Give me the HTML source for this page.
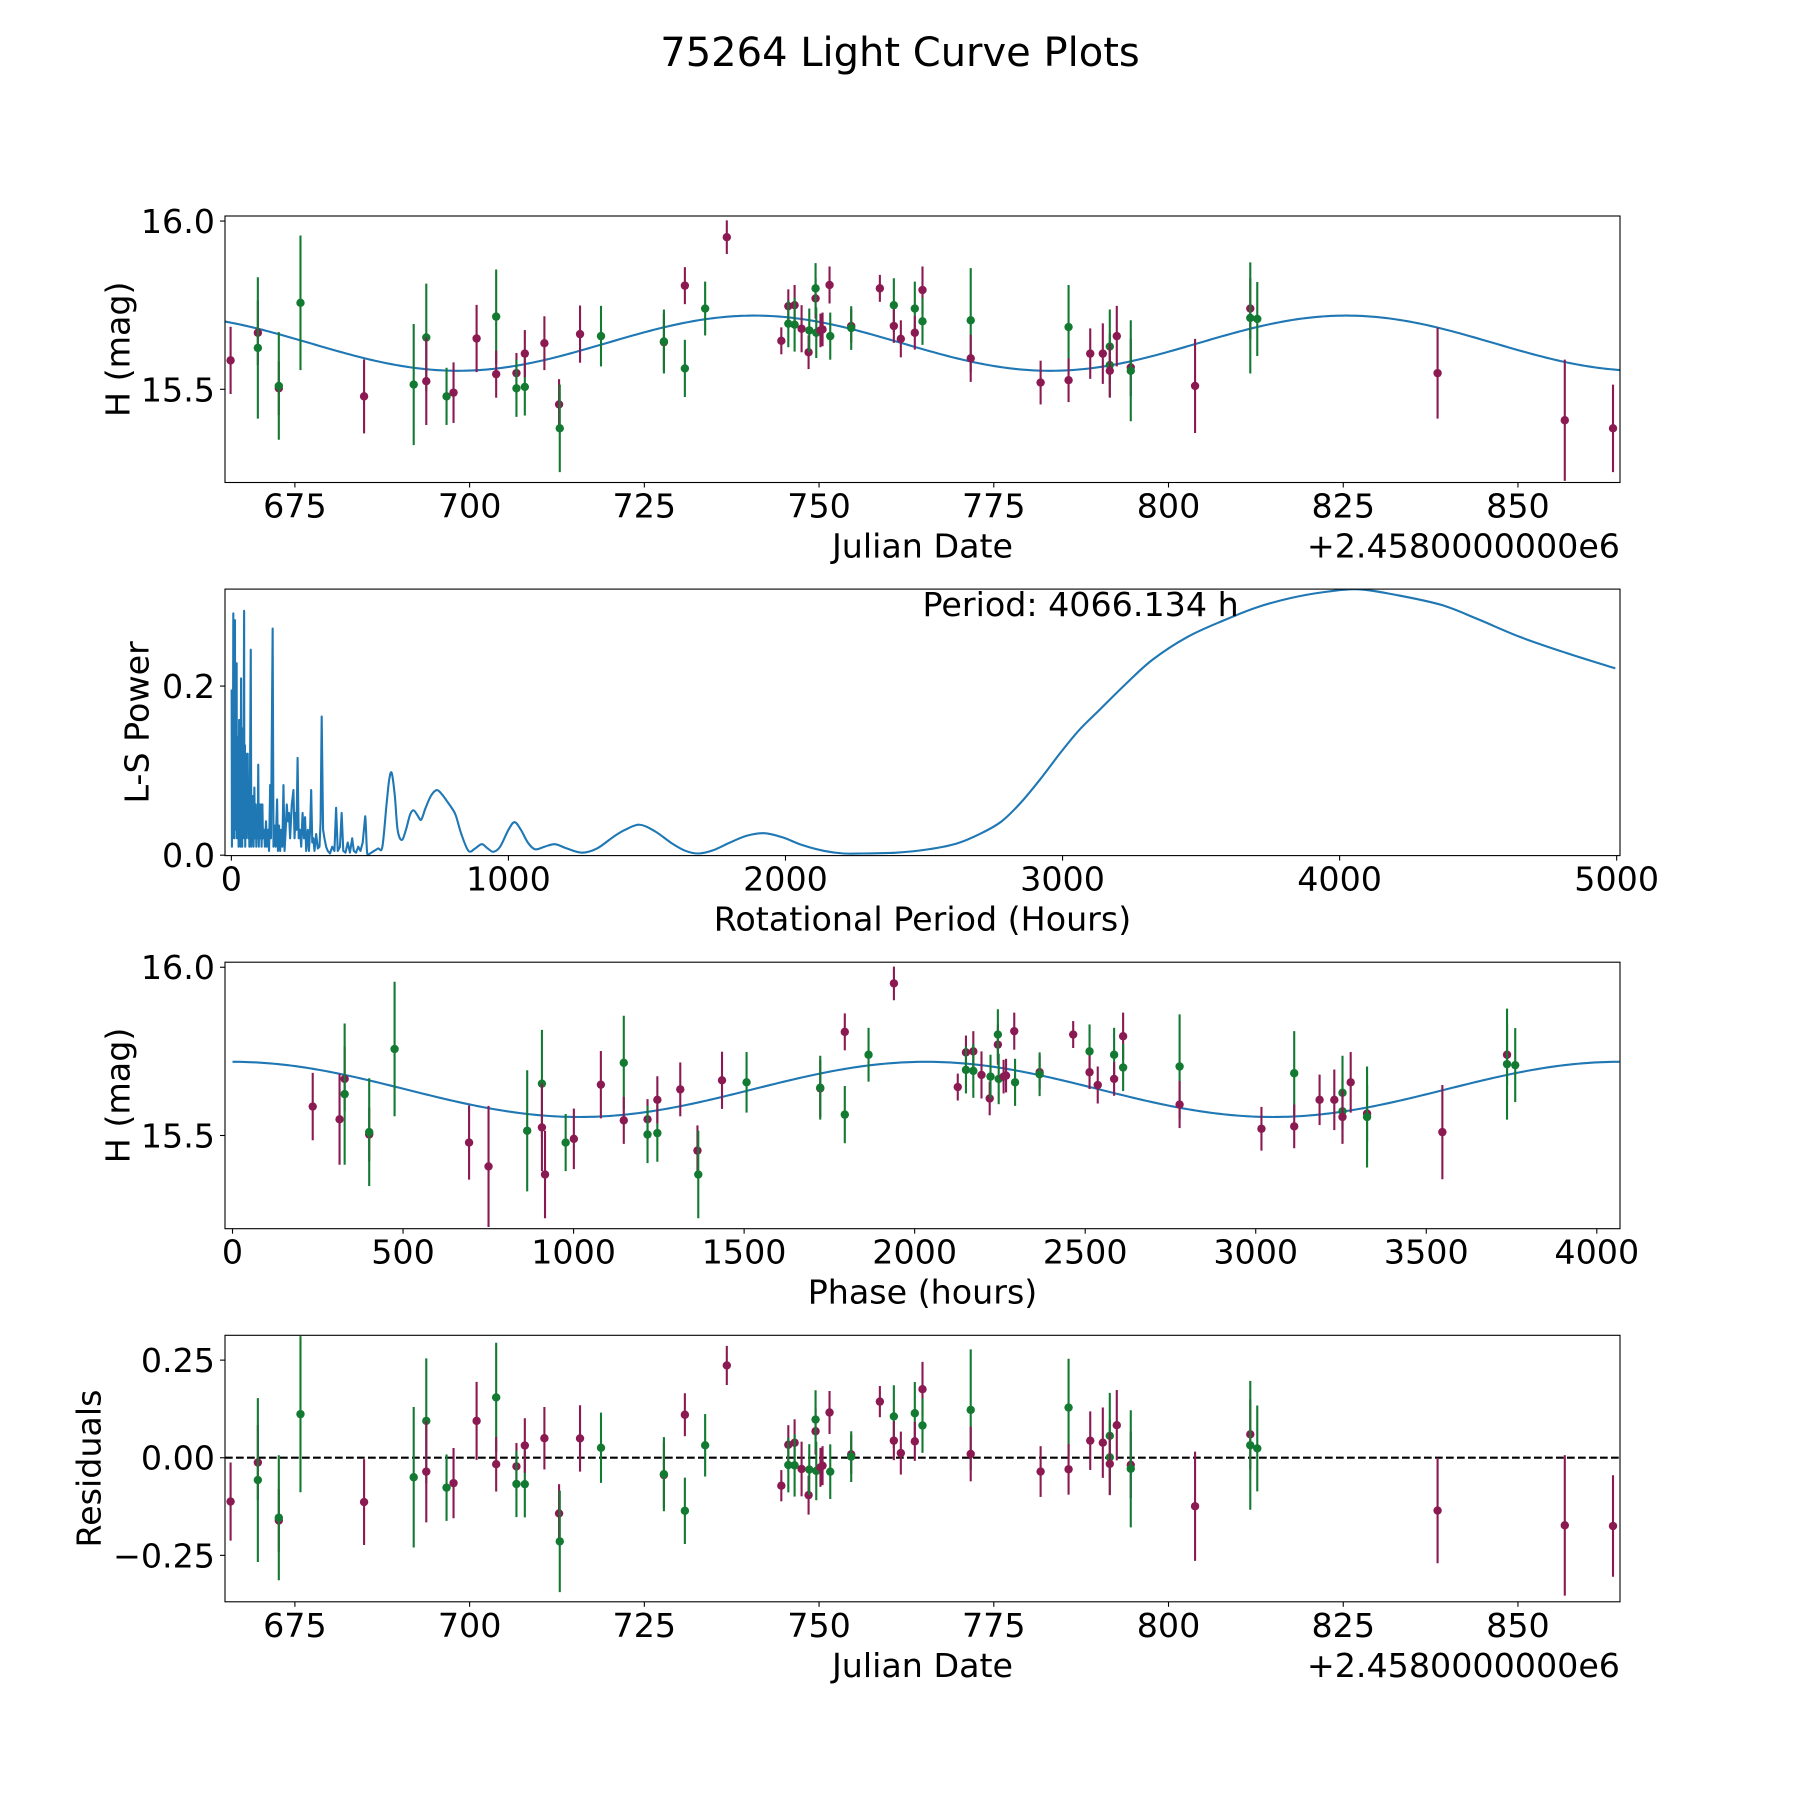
<!DOCTYPE html>
<html><head><meta charset="utf-8"><title>75264 Light Curve Plots</title>
<style>
html,body{margin:0;padding:0;background:#fff;}
svg{display:block;font-family:"DejaVu Sans","Liberation Sans",sans-serif;}
</style></head>
<body>
<svg id="fig" width="1800" height="1800" viewBox="0 0 1800 1800" xmlns="http://www.w3.org/2000/svg">
<rect width="1800" height="1800" fill="#fff"/>
<text x="900" y="66" font-size="40" text-anchor="middle">75264 Light Curve Plots</text>
</svg>
<script>
// ---- observation data ----
const obsJD = [665.8,669.7,669.7,672.7,672.7,675.8,684.9,692.0,693.8,693.8,696.7,697.7,701.0,703.8,703.8,706.7,706.7,707.9,707.9,710.7,712.8,712.9,715.8,718.8,727.8,727.8,730.8,730.8,733.7,736.8,744.6,745.6,745.6,746.5,746.5,747.5,748.5,748.6,749.5,749.5,749.6,750.2,750.5,751.5,751.6,754.6,754.6,758.7,760.7,760.7,761.7,763.7,763.7,764.8,764.8,771.7,771.7,781.7,785.7,785.7,788.8,790.6,791.6,791.6,791.6,792.6,794.6,794.6,803.8,811.7,811.7,812.7,838.5,856.7,863.6];
const obsMag = [15.586,15.668,15.623,15.503,15.51,15.757,15.479,15.514,15.654,15.524,15.479,15.49,15.651,15.716,15.545,15.548,15.503,15.507,15.606,15.637,15.455,15.384,15.664,15.658,15.64,15.642,15.808,15.562,15.74,15.952,15.644,15.747,15.695,15.75,15.692,15.68,15.61,15.675,15.77,15.8,15.668,15.675,15.678,15.81,15.658,15.688,15.682,15.8,15.75,15.688,15.65,15.74,15.668,15.795,15.702,15.705,15.592,15.52,15.685,15.527,15.606,15.606,15.627,15.572,15.555,15.658,15.565,15.555,15.51,15.74,15.712,15.709,15.548,15.408,15.384];
const obsErr = [0.10,0.096,0.21,0.08,0.16,0.20,0.11,0.18,0.16,0.13,0.085,0.09,0.10,0.14,0.07,0.06,0.085,0.085,0.07,0.08,0.075,0.13,0.085,0.09,0.085,0.095,0.055,0.085,0.08,0.05,0.04,0.05,0.07,0.06,0.08,0.07,0.05,0.065,0.06,0.075,0.075,0.05,0.05,0.055,0.07,0.05,0.065,0.04,0.08,0.05,0.055,0.08,0.05,0.07,0.07,0.155,0.07,0.065,0.125,0.065,0.075,0.09,0.11,0.095,0.08,0.09,0.085,0.15,0.14,0.09,0.165,0.11,0.135,0.18,0.13];
const obsBand = ['m','m','g','m','g','g','m','g','g','m','g','m','m','g','m','m','g','g','m','m','m','g','m','g','m','g','m','g','g','m','m','m','g','m','g','m','m','g','m','g','g','m','m','m','g','m','g','m','g','m','m','g','m','m','g','g','m','m','g','m','m','m','g','g','m','m','m','g','m','m','g','g','m','m','m'];
// ---- model ----
const periodHours = 4066.134;
const modelMean = 15.637;
const modelAmp = 0.082;
const epochJD = 656.0;
// ---- periodogram ----
const lsPeriod = [1,2,4,5,7,8,10,11,13,14,16,17,19,20,22,23,25,26,28,29,30,32,33,35,36,38,39,41,42,44,46,47,49,50,52,53,55,57,59,61,63,65,67,70,72,74,76,78,80,83,85,88,90,93,95,97,99,102,104,107,109,112,114,118,121,125,128,132,136,140,143,149,152,156,160,165,168,172,176,180,184,188,192,196,200,204,208,212,218,224,228,232,235,239,243,248,252,257,262,266,270,276,280,284,288,292,296,300,306,312,318,322,326,331,336,342,348,356,364,372,378,384,392,398,404,412,420,428,436,442,450,458,466,474,483,490,500,515,530,545,560,570,579,590,600,615,630,645,658,672,685,700,720,741,760,780,795,810,830,856,880,904,925,946,970,1000,1022,1045,1070,1096,1130,1168,1210,1265,1320,1380,1421,1473,1530,1590,1640,1687,1740,1800,1860,1924,1990,2060,2140,2210,2280,2400,2517,2620,2707,2780,2849,2920,2992,3060,3134,3230,3324,3450,3584,3700,3822,3940,4066,4200,4367,4500,4652,4820,4995];
const lsPower = [.196,.01,.12,.02,.286,.03,.15,.02,.278,.04,.18,.03,.227,.02,.14,.03,.129,.01,.16,.148,.02,.11,.01,.209,.02,.12,.01,.15,.02,.10,.289,.02,.13,.01,.12,.02,.11,.04,.12,.02,.09,.01,.08,.243,.01,.06,.02,.07,.01,.08,.02,.06,.01,.05,.02,.107,.01,.06,.02,.06,.01,.06,.02,.03,.01,.04,.01,.03,.005,.083,.02,.268,.01,.035,.01,.066,.005,.035,.005,.03,.01,.083,.005,.03,.06,.04,.05,.02,.06,.077,.02,.05,.03,.115,.02,.03,.01,.05,.02,.045,.005,.03,.005,.03,.077,.015,.02,.005,.025,.008,.01,.04,.164,.03,.02,.01,.005,.002,.01,.005,.056,.005,.01,.05,.005,.003,.015,.003,.02,.005,.003,.01,.005,.015,.046,.003,.002,.005,.008,.01,.06,.09,.097,.07,.03,.018,.03,.048,.053,.047,.042,.055,.07,.077,.072,.063,.056,.047,.025,.005,.008,.013,.008,.004,.01,.03,.039,.03,.015,.007,.01,.013,.008,.003,.008,.022,.030,.036,.028,.014,.005,.002,.006,.015,.023,.026,.021,.012,.005,.002,.002,.003,.007,.014,.026,.04,.062,.09,.121,.148,.172,.203,.231,.258,.278,.293,.304,.311,.3145,.308,.296,.279,.258,.239,.221];
// ---- tick labels ----
const jdTicks = [675,700,725,750,775,800,825,850];
const magTicks = [15.5,16.0];
const magTickLabels = ['15.5','16.0'];
const lsXTicks = [0,1000,2000,3000,4000,5000];
const lsYTicks = [0.0,0.2];
const lsYTickLabels = ['0.0','0.2'];
const phaseTicks = [0,500,1000,1500,2000,2500,3000,3500,4000];
const resTicks = [0.25,0.0,-0.25];
const resTickLabels = ['0.25','0.00','\u22120.25'];

const NS='http://www.w3.org/2000/svg';
const svg=document.getElementById('fig');
const COL={m:'#8b1a52',g:'#137a32'};
const L=225,R=1620,H=266.5;
const tops=[216,589.1,962.2,1335.3];
function mk(tag,attrs,parent){const e=document.createElementNS(NS,tag);for(const k in attrs)e.setAttribute(k,attrs[k]);(parent||svg).appendChild(e);return e;}
function model(jd){return modelMean+modelAmp*Math.cos(2*Math.PI*2*(jd-epochJD)*24/periodHours);}
function modelPhase(ph){return modelMean+modelAmp*Math.cos(2*Math.PI*2*ph/periodHours);}

function makeAxes(i,xlim,ylim,name){
  const top=tops[i],bot=top+H;
  const g=mk('g',{});
  
  
  const sx=v=>L+(v-xlim[0])/(xlim[1]-xlim[0])*(R-L);
  const sy=v=>bot-(v-ylim[0])/(ylim[1]-ylim[0])*H;
  const cid='clip'+i;
  const cp=mk('clipPath',{id:cid},g);mk('rect',{x:L,y:top,width:R-L,height:H},cp);
  const plot=mk('g',{'clip-path':'url(#'+cid+')'},g);
  return {g,plot,sx,sy,top,bot};
}
function frame(ax){
  const r=mk('rect',{x:L,y:ax.top,width:R-L,height:H,fill:'none',stroke:'#000','stroke-width':1.1},ax.g);
  
  
}
function xticks(ax,vals,labels){
  vals.forEach((v,k)=>{const x=ax.sx(v);
    mk('line',{x1:x,x2:x,y1:ax.bot,y2:ax.bot+5,stroke:'#000','stroke-width':1.1},ax.g);
    const t=mk('text',{x:x,y:ax.bot+35,'font-size':33.3,'text-anchor':'middle'},ax.g);
    
    
    t.textContent=labels?labels[k]:String(v);});
}
function yticks(ax,vals,labels){
  vals.forEach((v,k)=>{const y=ax.sy(v);
    mk('line',{x1:L-5,x2:L,y1:y,y2:y,stroke:'#000','stroke-width':1.1},ax.g);
    const t=mk('text',{x:L-10,y:y+12,'font-size':33.3,'text-anchor':'end'},ax.g);
    
    
    t.textContent=labels[k];});
}
function xlabel(ax,txt,nm){const t=mk('text',{x:(L+R)/2,y:ax.bot+75,'font-size':33.3,'text-anchor':'middle'},ax.g);
  
  
  t.textContent=txt;}
function ylabel(ax,txt,x,nm){const cy=ax.top+H/2;const t=mk('text',{x:x,y:cy,'font-size':33.3,'text-anchor':'middle','dominant-baseline':'central',transform:'rotate(-90 '+x+' '+cy+')'},ax.g);
  
  
  t.textContent=txt;}
function offsetText(ax){const t=mk('text',{x:R,y:ax.bot+75,'font-size':33.3,'text-anchor':'end'},ax.g);
  
  
  t.textContent='+2.4580000000e6';}
function errPoint(ax,x,y,e,col,nm){
  const grp=mk('g',{},ax.plot);
  
  
  mk('line',{x1:x,x2:x,y1:ax.sy(y-e),y2:ax.sy(y+e),stroke:col,'stroke-width':2.1},grp);
  mk('circle',{cx:x,cy:ax.sy(y),r:4.2,fill:col},grp);
}
// smoothThreshold: x above which a Catmull-Rom spline is used
function curve(ax,xs,ys,nm,smoothFrom){
  const P=xs.map((x,k)=>[ax.sx(x),ax.sy(ys[k])]);
  let d='M'+P[0][0].toFixed(2)+' '+P[0][1].toFixed(2);
  for(let k=1;k<P.length;k++){
    if(smoothFrom!==undefined && xs[k-1]>=smoothFrom){
      const p0=P[Math.max(k-2,0)],p1=P[k-1],p2=P[k],p3=P[Math.min(k+1,P.length-1)];
      const c1=[p1[0]+(p2[0]-p0[0])/6,p1[1]+(p2[1]-p0[1])/6];
      const c2=[p2[0]-(p3[0]-p1[0])/6,p2[1]-(p3[1]-p1[1])/6];
      d+=' C'+c1[0].toFixed(2)+' '+c1[1].toFixed(2)+' '+c2[0].toFixed(2)+' '+c2[1].toFixed(2)+' '+p2[0].toFixed(2)+' '+p2[1].toFixed(2);
    } else d+=' L'+P[k][0].toFixed(2)+' '+P[k][1].toFixed(2);
  }
  const p=mk('path',{d:d,fill:'none',stroke:'#1f77b4','stroke-width':2.1,'stroke-linejoin':'round'},ax.plot);
  
  
}

// Panel 1: light curve
const magLim=[15.223,16.015], jdLim=[665.0,864.6];
const a1=makeAxes(0,jdLim,magLim,'light-curve-panel');
{const xs=[],ys=[];for(let k=0;k<=400;k++){const t=jdLim[0]+k*(jdLim[1]-jdLim[0])/400;xs.push(t);ys.push(model(t));}
 curve(a1,xs,ys,'model-curve');}
obsJD.forEach((t,k)=>errPoint(a1,a1.sx(t),obsMag[k],obsErr[k],COL[obsBand[k]],'observation-point'));
frame(a1);xticks(a1,jdTicks);yticks(a1,magTicks,magTickLabels);
xlabel(a1,'Julian Date','x-axis-title');ylabel(a1,'H (mag)',118,'y-axis-title');offsetText(a1);

// Panel 2: periodogram
const a2=makeAxes(1,[-23,5012],[-0.0005,0.3147],'periodogram-panel');
curve(a2,lsPeriod,lsPower,'ls-power-curve',480);
frame(a2);xticks(a2,lsXTicks);yticks(a2,lsYTicks,lsYTickLabels);
xlabel(a2,'Rotational Period (Hours)','x-axis-title');ylabel(a2,'L-S Power',137,'y-axis-title');
{const t=mk('text',{x:(L+R)/2,y:a2.top+27,'font-size':33.3,'text-anchor':'start'},a2.g);
 
 
 t.textContent='Period: '+periodHours.toFixed(3)+' h';}

// Panel 3: phased
const phLim=[-22,4068];
const a3=makeAxes(2,phLim,magLim,'phase-panel');
{const xs=[],ys=[];for(let k=0;k<=400;k++){const p=k*periodHours/400;xs.push(p);ys.push(modelPhase(p));}
 curve(a3,xs,ys,'phase-model-curve');}
obsJD.forEach((t,k)=>{let ph=((t-epochJD)*24)%periodHours;if(ph<0)ph+=periodHours;
  errPoint(a3,a3.sx(ph),obsMag[k],obsErr[k],COL[obsBand[k]],'phased-point');});
frame(a3);xticks(a3,phaseTicks);yticks(a3,magTicks,magTickLabels);
xlabel(a3,'Phase (hours)','x-axis-title');ylabel(a3,'H (mag)',118,'y-axis-title');

// Panel 4: residuals
const a4=makeAxes(3,jdLim,[-0.369,0.3136],'residuals-panel');
{const z=mk('line',{x1:L,x2:R,y1:a4.sy(0),y2:a4.sy(0),stroke:'#000','stroke-width':2.1,'stroke-dasharray':'7.7 3.3'},a4.plot);
 
 }
obsJD.forEach((t,k)=>errPoint(a4,a4.sx(t),obsMag[k]-model(t),obsErr[k],COL[obsBand[k]],'residual-point'));
frame(a4);xticks(a4,jdTicks);yticks(a4,resTicks,resTickLabels);
xlabel(a4,'Julian Date','x-axis-title');ylabel(a4,'Residuals',89,'y-axis-title');offsetText(a4);
</script>
</body></html>
